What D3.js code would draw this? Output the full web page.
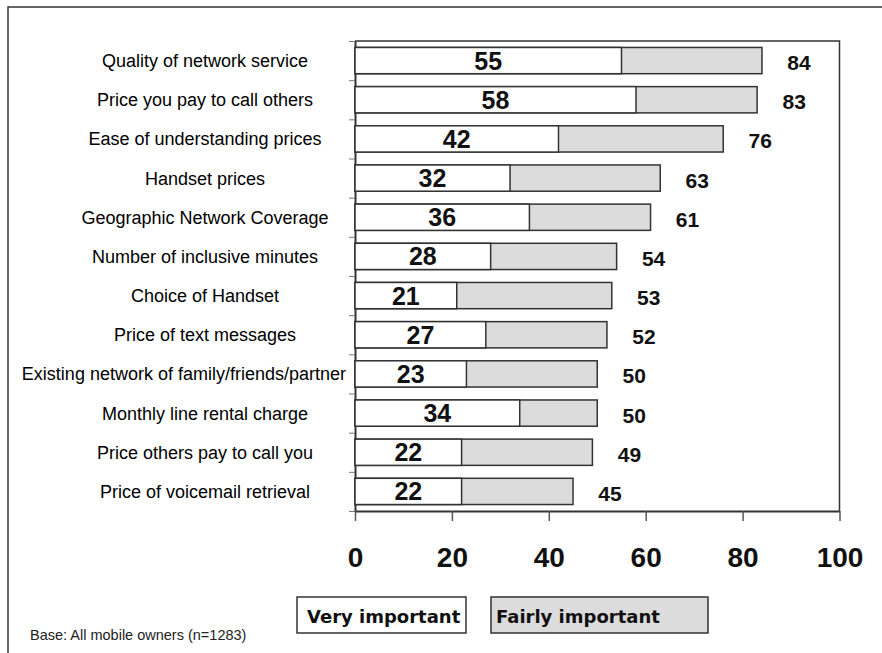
<!DOCTYPE html>
<html>
<head>
<meta charset="utf-8">
<script src="https://cdn.jsdelivr.net/npm/d3@7"></script>
<style>
  body { margin: 0; background: #fff; }
  svg { display: block; font-family: "Liberation Sans", Arial, sans-serif; }
</style>
</head>
<body>
<div id="chart"></div>
<script>
var categories = [
    "Quality of network service",
    "Price you pay to call others",
    "Ease of understanding prices",
    "Handset prices",
    "Geographic Network Coverage",
    "Number of inclusive minutes",
    "Choice of Handset",
    "Price of text messages",
    "Existing network of family/friends/partner",
    "Monthly line rental charge",
    "Price others pay to call you",
    "Price of voicemail retrieval"
];
var veryImportant = [55, 58, 42, 32, 36, 28, 21, 27, 23, 34, 22, 22];
var totalImportant = [84, 83, 76, 63, 61, 54, 53, 52, 50, 50, 49, 45];
var xTicks = [0, 20, 40, 60, 80, 100];
var legendLabels = ["Very important", "Fairly important"];
var baseNote = "Base: All mobile owners (n=1283)";

var width = 882, height = 653;
var margin = { top: 41, right: 42.5, bottom: 142, left: 355 };

var data = categories.map(function(c, i) {
    return { cat: c, very: veryImportant[i], total: totalImportant[i] };
});

var svg = d3.select("#chart")
    .append("svg")
    .attr("width", width)
    .attr("height", height);

// outer frame
svg.append("rect")
    .attr("x", 8).attr("y", 7)
    .attr("width", 900).attr("height", 700)
    .attr("fill", "none")
    .attr("stroke", "#333")
    .attr("stroke-width", 1.5);

var x = d3.scaleLinear()
    .domain([0, 100])
    .range([margin.left, width - margin.right]);

var y = d3.scaleBand()
    .domain(categories)
    .range([margin.top, height - margin.bottom])
    .paddingInner(0.33)
    .paddingOuter(0.165);

//index scale for the category boundary ticks
var yb = d3.scaleLinear()
    .domain([0, categories.length])
    .range([margin.top, height - margin.bottom]);

var plotBottom = height - margin.bottom;

// top and right edges of the plot box
svg.append("path")
    .attr("d", "M" + x(0) + "," + margin.top + "H" + x(100) + "V" + plotBottom)
    .attr("fill", "none")
    .attr("stroke", "#333")
    .attr("stroke-width", 1.5);

// y axis with ticks between categories
var yAxis = svg.append("g")
    .attr("transform", "translate(" + x(0) + ",0)")
    .call(d3.axisLeft(yb).ticks(categories.length).tickSize(6).tickSizeOuter(0).tickFormat(""));
yAxis.select(".domain").attr("stroke", "#333").attr("stroke-width", 2);
yAxis.selectAll(".tick line").attr("stroke", "#777");

// x axis
var xAxis = svg.append("g")
    .attr("transform", "translate(0," + plotBottom + ")")
    .call(d3.axisBottom(x).tickValues(xTicks).tickSize(10).tickSizeOuter(0).tickPadding(26));
xAxis.select(".domain").attr("stroke", "#333").attr("stroke-width", 2);
xAxis.selectAll(".tick line").attr("stroke", "#555").attr("stroke-width", 1.5);
xAxis.selectAll(".tick text")
    .attr("fill", "#111")
    .style("font-family", "'Liberation Sans', Arial, sans-serif")
    .style("font-size", "28px")
    .style("font-weight", "bold");

// bars: total (grey) then very important (white)
var bars = svg.append("g");
bars.selectAll("rect.total")
    .data(data)
    .join("rect")
    .attr("class", "total")
    .attr("x", x(0))
    .attr("y", function(d) { return y(d.cat); })
    .attr("width", function(d) { return x(d.total) - x(0); })
    .attr("height", y.bandwidth())
    .attr("fill", "#dcdcdc")
    .attr("stroke", "#333")
    .attr("stroke-width", 1.5);

bars.selectAll("rect.very")
    .data(data)
    .join("rect")
    .attr("class", "very")
    .attr("x", x(0))
    .attr("y", function(d) { return y(d.cat); })
    .attr("width", function(d) { return x(d.very) - x(0); })
    .attr("height", y.bandwidth())
    .attr("fill", "#fff")
    .attr("stroke", "#333")
    .attr("stroke-width", 1.5);

// value labels
svg.append("g").selectAll("text")
    .data(data)
    .join("text")
    .attr("x", function(d) { return (x(0) + x(d.very)) / 2; })
    .attr("y", function(d) { return y(d.cat) + y.bandwidth() / 2; })
    .attr("dy", "0.36em")
    .attr("text-anchor", "middle")
    .attr("font-size", 25)
    .attr("font-weight", "bold")
    .attr("fill", "#111")
    .text(function(d) { return d.very; });

svg.append("g").selectAll("text")
    .data(data)
    .join("text")
    .attr("x", function(d) { return x(d.total) + 37; })
    .attr("y", function(d) { return y(d.cat) + y.bandwidth() / 2 + 2; })
    .attr("dy", "0.36em")
    .attr("text-anchor", "middle")
    .attr("font-size", 21)
    .attr("font-weight", "bold")
    .attr("fill", "#111")
    .text(function(d) { return d.total; });

// category labels, centred, pushed left if too long
var labelCenter = 205;
svg.append("g").selectAll("text")
    .data(data)
    .join("text")
    .attr("x", labelCenter)
    .attr("y", function(d) { return y(d.cat) + y.bandwidth() / 2; })
    .attr("dy", "0.36em")
    .attr("text-anchor", "middle")
    .attr("font-size", 18)
    .attr("fill", "#000")
    .text(function(d) { return d.cat; })
    .each(function() {
        var w = this.getComputedTextLength();
        if (labelCenter + w / 2 > x(0) - 9) {
            d3.select(this).attr("x", x(0) - 9 - w / 2);
        }
    });

// legend
var legend = [
    { label: legendLabels[0], x: 297, w: 169, tx: 10, fill: "#fff" },
    { label: legendLabels[1], x: 491, w: 217, tx: 5, fill: "#dcdcdc" }
];
var lg = svg.append("g").selectAll("g")
    .data(legend)
    .join("g")
    .attr("transform", function(d) { return "translate(" + d.x + ",597)"; });
lg.append("rect")
    .attr("width", function(d) { return d.w; })
    .attr("height", 36)
    .attr("fill", function(d) { return d.fill; })
    .attr("stroke", "#333")
    .attr("stroke-width", 1.5);
lg.append("text")
    .attr("x", function(d) { return d.tx; })
    .attr("y", 26)
    .attr("font-family", "'DejaVu Sans', Verdana, sans-serif")
    .attr("font-size", 18)
    .attr("font-weight", "bold")
    .attr("fill", "#111")
    .text(function(d) { return d.label; });

// base note
svg.append("text")
    .attr("x", 30)
    .attr("y", 640)
    .attr("font-size", 14.5)
    .attr("fill", "#222")
    .text(baseNote);
</script>
</body>
</html>
